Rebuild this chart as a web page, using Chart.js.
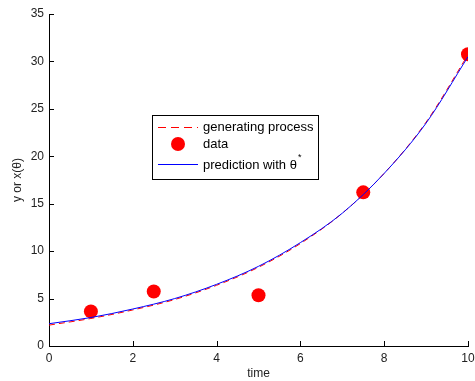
<!DOCTYPE html>
<html lang="en">
<head>
    <meta charset="UTF-8">
    <title>Exponential fit</title>
    <style>
        html, body { margin: 0; padding: 0; background: #fff; }
        #wrap { width: 475px; height: 381px; }
    </style>
</head>
<body>
    <div id="wrap"><canvas id="fitChart" width="475" height="381"></canvas></div>

    <script src="https://cdn.jsdelivr.net/npm/chart.js"></script>
    <script>
        // values
        const curveTimes = [0, 1, 2, 3, 4, 5, 6, 7, 8, 9, 10];
        const generatingValues = [2.2, 2.9, 3.8, 4.9, 6.4, 8.3, 10.8, 14.0, 18.2, 23.6, 30.7];
        const predictionValues = [2.35, 3.0, 3.9, 5.0, 6.5, 8.4, 10.9, 14.0, 18.2, 23.5, 30.5];
        const dataTimes = [1, 2.5, 5, 7.5, 10];
        const dataValues = [3.65, 5.75, 5.35, 16.2, 30.75];
        const xTicks = [0, 2, 4, 6, 8, 10];
        const yTicks = [0, 5, 10, 15, 20, 25, 30, 35];

        const toPoints = (xs, ys) => xs.map((x, i) => ({ x: x, y: ys[i] }));
        const tickFont = { family: 'Liberation Sans, Arial, sans-serif', size: 12 };

        // inward tick marks, matlab style
        const inwardTicks = {
            id: 'inwardTicks',
            afterDraw(chart) {
                const c = chart.ctx, a = chart.chartArea;
                const xs = chart.scales.x, ys = chart.scales.y;
                c.save();
                c.strokeStyle = '#000';
                c.lineWidth = 1;
                c.beginPath();
                xTicks.forEach(v => {
                    const px = Math.round(xs.getPixelForValue(v)) + 0.5;
                    c.moveTo(px, a.bottom);
                    c.lineTo(px, a.bottom - 5);
                });
                yTicks.forEach(v => {
                    const py = Math.round(ys.getPixelForValue(v)) + 0.5;
                    c.moveTo(a.left, py);
                    c.lineTo(a.left + 5, py);
                });
                c.stroke();
                c.restore();
            }
        };

        // boxed legend inside the plot
        const boxLegend = {
            id: 'boxLegend',
            afterDraw(chart) {
                const c = chart.ctx;
                const bx = 152.5, by = 115.5, bw = 166, bh = 64;
                c.save();
                c.fillStyle = '#fff';
                c.fillRect(bx, by, bw, bh);
                c.strokeStyle = '#000';
                c.lineWidth = 1;
                c.strokeRect(bx, by, bw, bh);

                c.font = '13px Liberation Sans, Arial, sans-serif';
                c.fillStyle = '#000';
                c.textBaseline = 'middle';

                // generating process
                c.strokeStyle = '#ff0000';
                c.setLineDash([8, 5]);
                c.beginPath();
                c.moveTo(158, 127.5);
                c.lineTo(198, 127.5);
                c.stroke();
                c.setLineDash([]);
                c.fillText('generating process', 203, 127);

                // data
                c.fillStyle = '#ff0000';
                c.beginPath();
                c.arc(178, 144, 7, 0, Math.PI * 2);
                c.fill();
                c.fillStyle = '#000';
                c.fillText('data', 203, 144);

                // prediction
                c.strokeStyle = '#0000ff';
                c.beginPath();
                c.moveTo(158, 164.5);
                c.lineTo(198, 164.5);
                c.stroke();
                c.fillText('prediction with \u03b8', 203, 165);
                const w = c.measureText('prediction with \u03b8').width;
                c.font = '9px Liberation Sans, Arial, sans-serif';
                c.fillText('*', 203 + w + 1, 158);
                c.restore();
            }
        };

        const ctx = document.getElementById('fitChart').getContext('2d');
        new Chart(ctx, {
            type: 'scatter',
            data: {
                datasets: [
                    {
                        label: 'prediction with \u03b8*',
                        data: toPoints(curveTimes, predictionValues),
                        showLine: true,
                        borderColor: '#0000ff',
                        borderWidth: 1,
                        pointRadius: 0,
                        cubicInterpolationMode: 'monotone',
                        order: 0
                    },
                    {
                        label: 'data',
                        data: toPoints(dataTimes, dataValues),
                        backgroundColor: '#ff0000',
                        borderColor: '#ff0000',
                        borderWidth: 0,
                        pointRadius: 7,
                        order: 1
                    },
                    {
                        label: 'generating process',
                        data: toPoints(curveTimes, generatingValues),
                        showLine: true,
                        borderColor: '#ff0000',
                        borderWidth: 1,
                        borderDash: [6, 4],
                        pointRadius: 0,
                        cubicInterpolationMode: 'monotone',
                        order: 2
                    }
                ]
            },
            options: {
                responsive: false,
                animation: false,
                layout: { padding: { top: 14, right: 5, left: 0, bottom: 0 } },
                plugins: {
                    legend: { display: false },
                    tooltip: { enabled: false }
                },
                scales: {
                    x: {
                        type: 'linear',
                        min: 0,
                        max: 10,
                        afterBuildTicks: s => { s.ticks = xTicks.map(v => ({ value: v })); },
                        afterFit: s => { s.height = 35; s.paddingLeft = 0; s.paddingRight = 0; },
                        grid: { drawOnChartArea: false, drawTicks: false },
                        border: { display: true, color: '#000', width: 1 },
                        ticks: { font: tickFont, color: '#222', padding: 5 },
                        title: { display: true, text: 'time', font: tickFont, color: '#222', padding: { top: 0, bottom: 0 } }
                    },
                    y: {
                        min: 0,
                        max: 35,
                        afterBuildTicks: s => { s.ticks = yTicks.map(v => ({ value: v })); },
                        afterFit: s => { s.width = 49; s.paddingTop = 0; s.paddingBottom = 0; },
                        grid: { drawOnChartArea: false, drawTicks: false },
                        border: { display: true, color: '#000', width: 1 },
                        ticks: { font: tickFont, color: '#222', padding: 5 },
                        title: { display: true, text: 'y or x(\u03b8)', font: tickFont, color: '#222', padding: { top: 10, bottom: 4 } }
                    }
                }
            },
            plugins: [inwardTicks, boxLegend]
        });
    </script>
</body>
</html>
